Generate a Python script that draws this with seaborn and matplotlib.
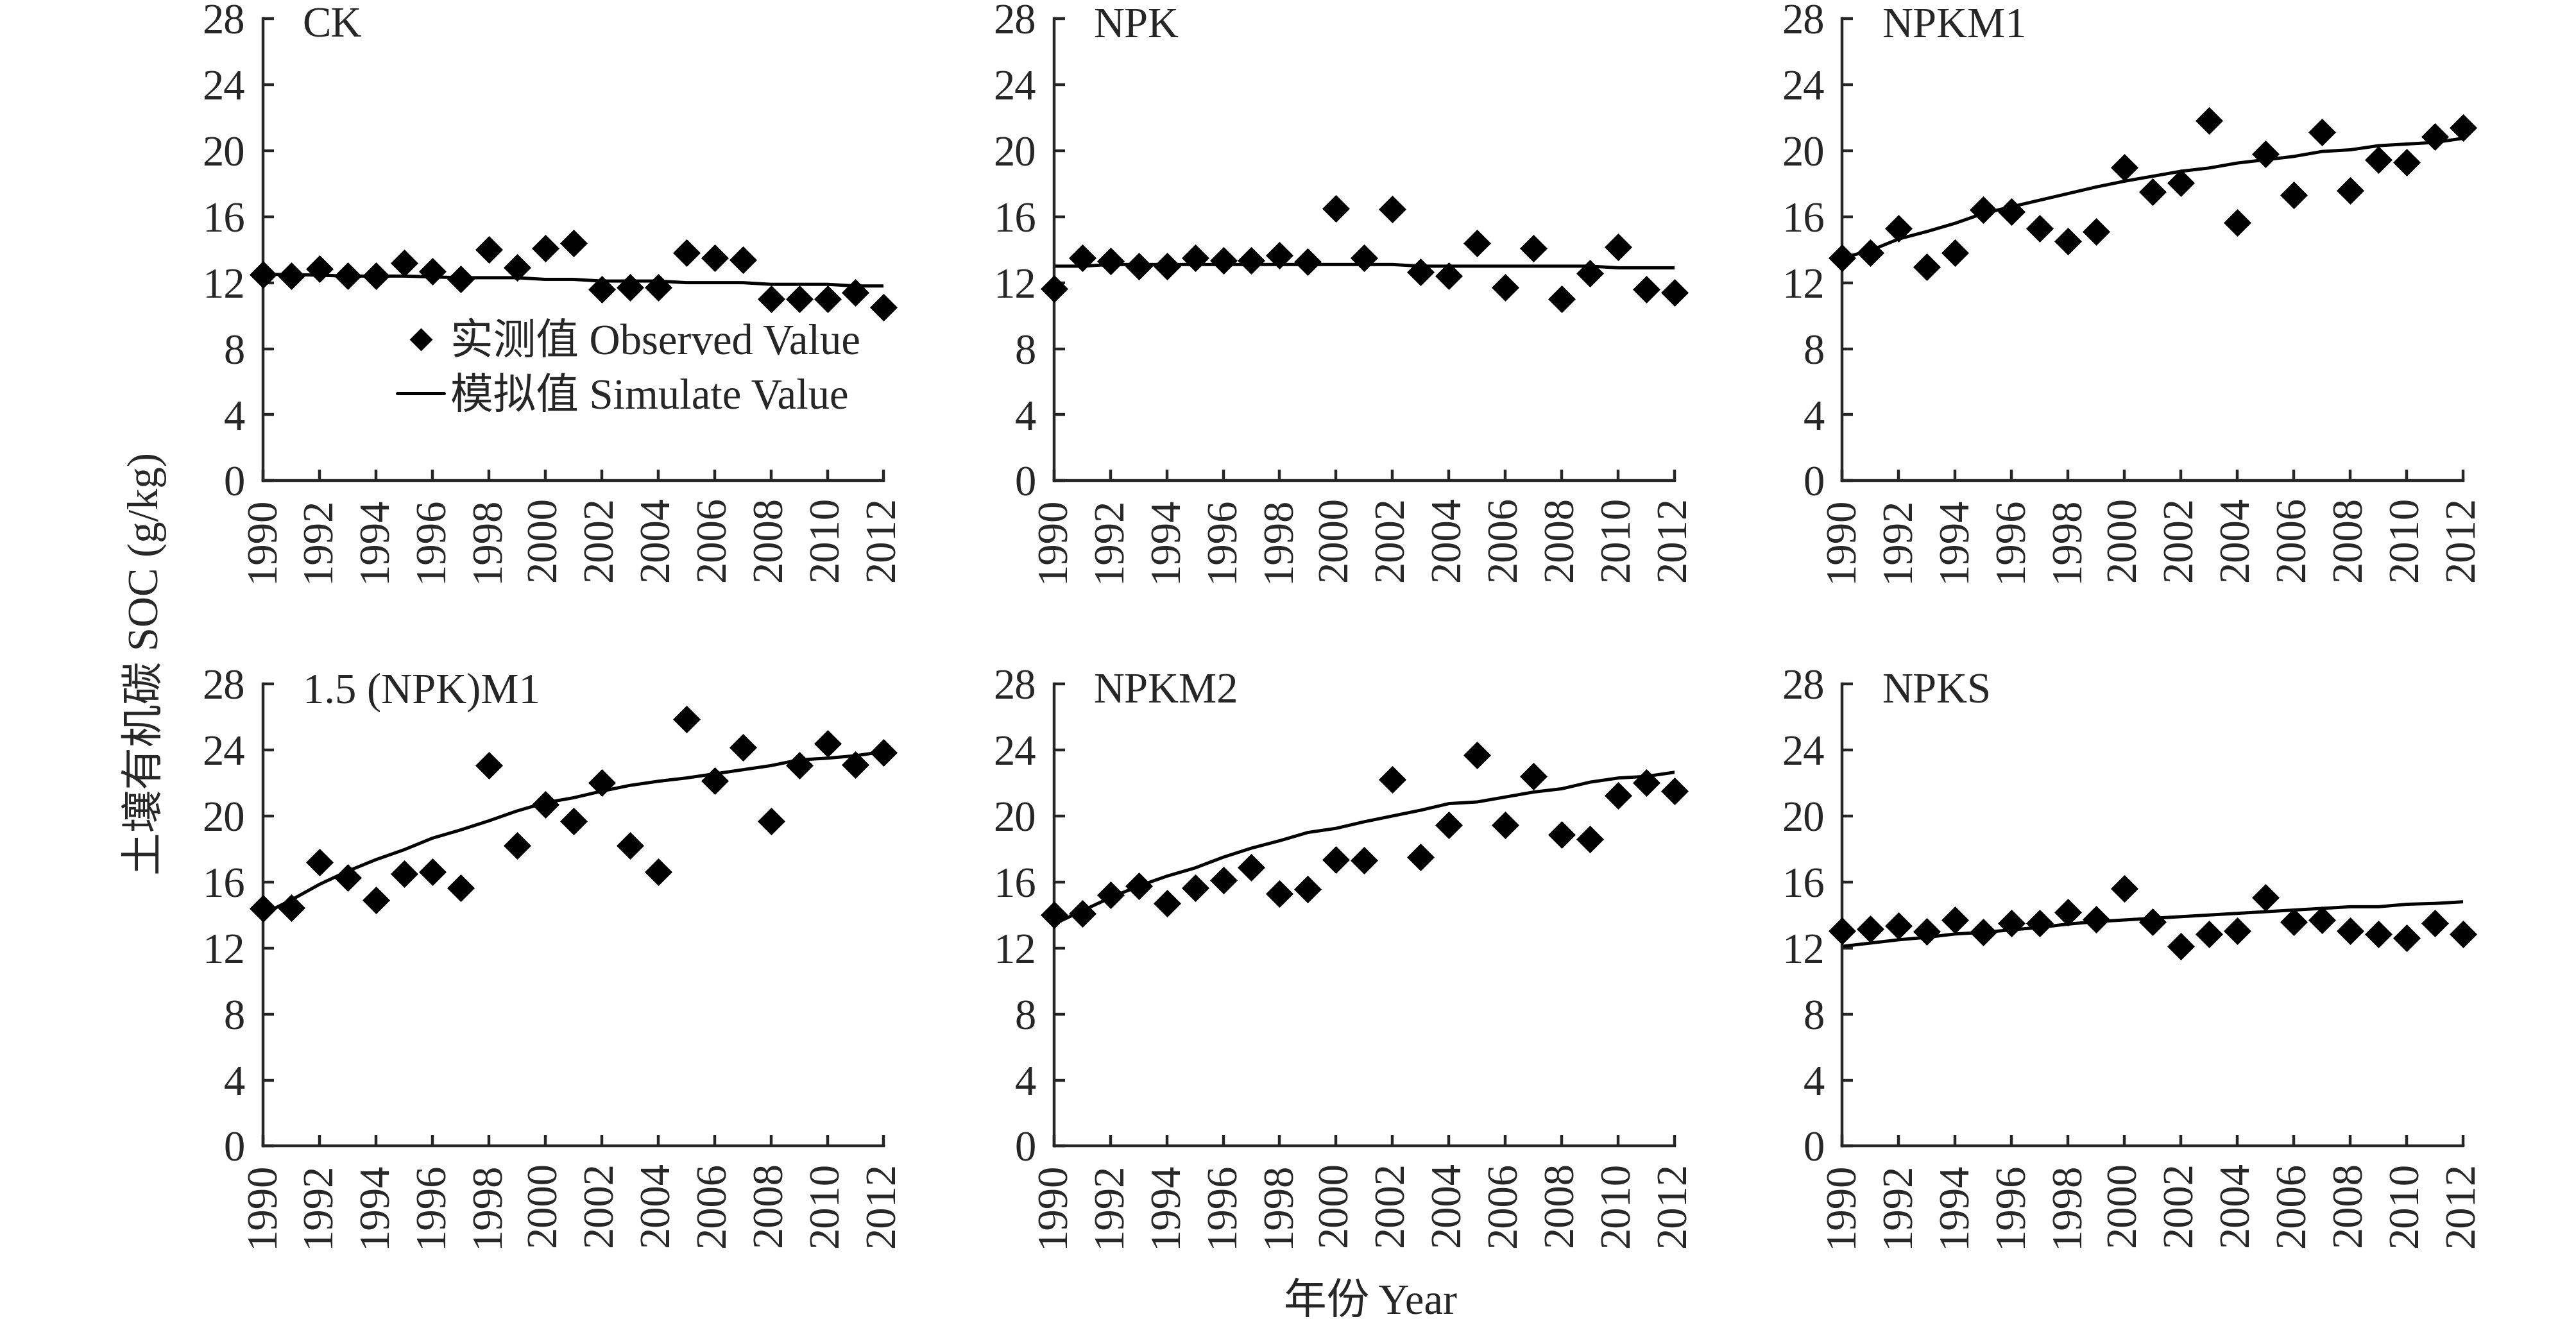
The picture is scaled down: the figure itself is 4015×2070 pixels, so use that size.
import numpy as np
import pandas as pd
import matplotlib
matplotlib.use("Agg")
import matplotlib.pyplot as plt
from matplotlib.lines import Line2D
import seaborn as sns

years = list(range(1990, 2013))

panels = ["CK", "NPK", "NPKM1", "1.5 (NPK)M1", "NPKM2", "NPKS"]

ck_obs = [12.5, 12.4, 12.85, 12.4, 12.4, 13.2, 12.7, 12.2, 14.0, 12.9, 14.1, 14.4,
          11.6, 11.7, 11.7, 13.8, 13.5, 13.4, 11.0, 11.0, 11.0, 11.4, 10.5]
ck_sim = [12.5, 12.5, 12.45, 12.4, 12.4, 12.4, 12.35, 12.3, 12.3, 12.3, 12.2, 12.2,
          12.1, 12.1, 12.1, 12.0, 12.0, 12.0, 11.9, 11.9, 11.9, 11.8, 11.8]

npk_obs = [11.65, 13.5, 13.3, 13.0, 13.0, 13.5, 13.35, 13.35, 13.65, 13.25, 16.5, 13.5,
           16.45, 12.65, 12.4, 14.4, 11.7, 14.1, 11.0, 12.55, 14.15, 11.6, 11.4]
npk_sim = [13.0, 13.0, 13.1, 13.1, 13.1, 13.1, 13.1, 13.1, 13.1, 13.1, 13.1, 13.1,
           13.1, 13.0, 13.0, 13.0, 13.0, 13.0, 13.0, 13.0, 12.9, 12.9, 12.9]

npkm1_obs = [13.5, 13.8, 15.3, 12.95, 13.8, 16.4, 16.3, 15.3, 14.5, 15.1, 19.0, 17.5,
             18.05, 21.8, 15.65, 19.8, 17.3, 21.1, 17.6, 19.45, 19.3, 20.85, 21.4]
npkm1_sim = [13.5, 13.95, 14.65, 15.1, 15.6, 16.2, 16.6, 17.0, 17.4, 17.8, 18.15, 18.45,
             18.75, 18.95, 19.25, 19.45, 19.65, 19.95, 20.05, 20.3, 20.4, 20.5, 20.75]

npk15m1_obs = [14.4, 14.45, 17.2, 16.25, 14.9, 16.5, 16.6, 15.65, 23.05, 18.2, 20.7, 19.7,
               22.0, 18.2, 16.6, 25.85, 22.15, 24.15, 19.7, 23.05, 24.4, 23.1, 23.85]
npk15m1_sim = [14.05, 14.9, 15.85, 16.65, 17.35, 17.95, 18.65, 19.15, 19.7, 20.3, 20.8, 21.1,
               21.5, 21.85, 22.1, 22.3, 22.55, 22.8, 23.05, 23.4, 23.5, 23.65, 23.9]

npkm2_obs = [14.0, 14.1, 15.2, 15.75, 14.7, 15.65, 16.1, 16.9, 15.3, 15.55, 17.35, 17.3,
             22.2, 17.5, 19.45, 23.7, 19.45, 22.4, 18.85, 18.6, 21.25, 22.0, 21.5]
npkm2_sim = [13.45, 14.25, 15.05, 15.75, 16.35, 16.85, 17.5, 18.05, 18.5, 19.0, 19.25, 19.65,
             20.0, 20.35, 20.75, 20.85, 21.15, 21.45, 21.65, 22.05, 22.3, 22.4, 22.65]

npks_obs = [13.05, 13.15, 13.35, 13.0, 13.7, 12.95, 13.5, 13.5, 14.15, 13.75, 15.6, 13.6,
            12.1, 12.85, 13.05, 15.05, 13.6, 13.7, 13.05, 12.85, 12.6, 13.5, 12.85]
npks_sim = [12.1, 12.3, 12.5, 12.65, 12.85, 12.95, 13.1, 13.25, 13.45, 13.6, 13.7, 13.8,
            13.9, 14.0, 14.1, 14.2, 14.3, 14.4, 14.5, 14.5, 14.65, 14.7, 14.8]

obs_list = [ck_obs, npk_obs, npkm1_obs, npk15m1_obs, npkm2_obs, npks_obs]
sim_list = [ck_sim, npk_sim, npkm1_sim, npk15m1_sim, npkm2_sim, npks_sim]

rows = []
for name, obs, sim in zip(panels, obs_list, sim_list):
    for y, o, s in zip(years, obs, sim):
        rows.append({"panel": name, "year": y, "obs": o, "sim": s})
df = pd.DataFrame(rows)

sns.set_style("ticks")
fonts = ["Liberation Serif", "Noto Sans CJK SC"]
plt.rcParams["font.family"] = fonts
plt.rcParams["axes.linewidth"] = 1.6
fs = 24

fig = plt.figure(figsize=(20.08, 10.35), dpi=200)
lefts = [0.102, 0.409, 0.715]
bottoms = [0.638, 0.137]
w, h = 0.241, 0.348

for i, name in enumerate(panels):
    ax = fig.add_axes([lefts[i % 3], bottoms[i // 3], w, h])
    d = df[df["panel"] == name]
    sns.lineplot(data=d, x="year", y="sim", ax=ax, color="black", lw=1.8)
    sns.scatterplot(data=d, x="year", y="obs", ax=ax, marker="D", color="black",
                    s=120, edgecolor="black", linewidth=0, zorder=3, clip_on=False)
    ax.set_xlim(1990, 2012)
    ax.set_ylim(0, 28)
    ax.set_xticks(range(1990, 2013, 2))
    ax.set_yticks(range(0, 29, 4))
    ax.tick_params(axis="both", direction="in", length=6, width=1.6, labelsize=fs)
    ax.tick_params(axis="x", pad=9, labelrotation=90)
    ax.tick_params(axis="y", pad=10)
    for lab in ax.get_xticklabels() + ax.get_yticklabels():
        lab.set_family(fonts)
    ax.set_xlabel("")
    ax.set_ylabel("")
    sns.despine(ax=ax)
    ax.text(0.064, 1.025, name, transform=ax.transAxes, ha="left", va="top",
            fontsize=fs, family=fonts)
    if i == 0:
        handles = [Line2D([], [], marker="D", color="black", ls="none", markersize=8),
                   Line2D([], [], color="black", lw=1.8)]
        ax.legend(handles, ["实测值 Observed Value", "模拟值 Simulate Value"],
                  loc="lower right", bbox_to_anchor=(0.99, 0.1), frameon=False,
                  handlelength=1.1, handletextpad=0.15, labelspacing=0.35,
                  borderaxespad=0.0, prop={"family": fonts, "size": fs})

fig.text(0.056, 0.5, "土壤有机碳 SOC (g/kg)", rotation=90, ha="center", va="center",
         fontsize=fs, family=fonts)
fig.text(0.532, 0.004, "年份 Year", ha="center", va="bottom", fontsize=fs, family=fonts)

fig.savefig("out.png", dpi=200)
